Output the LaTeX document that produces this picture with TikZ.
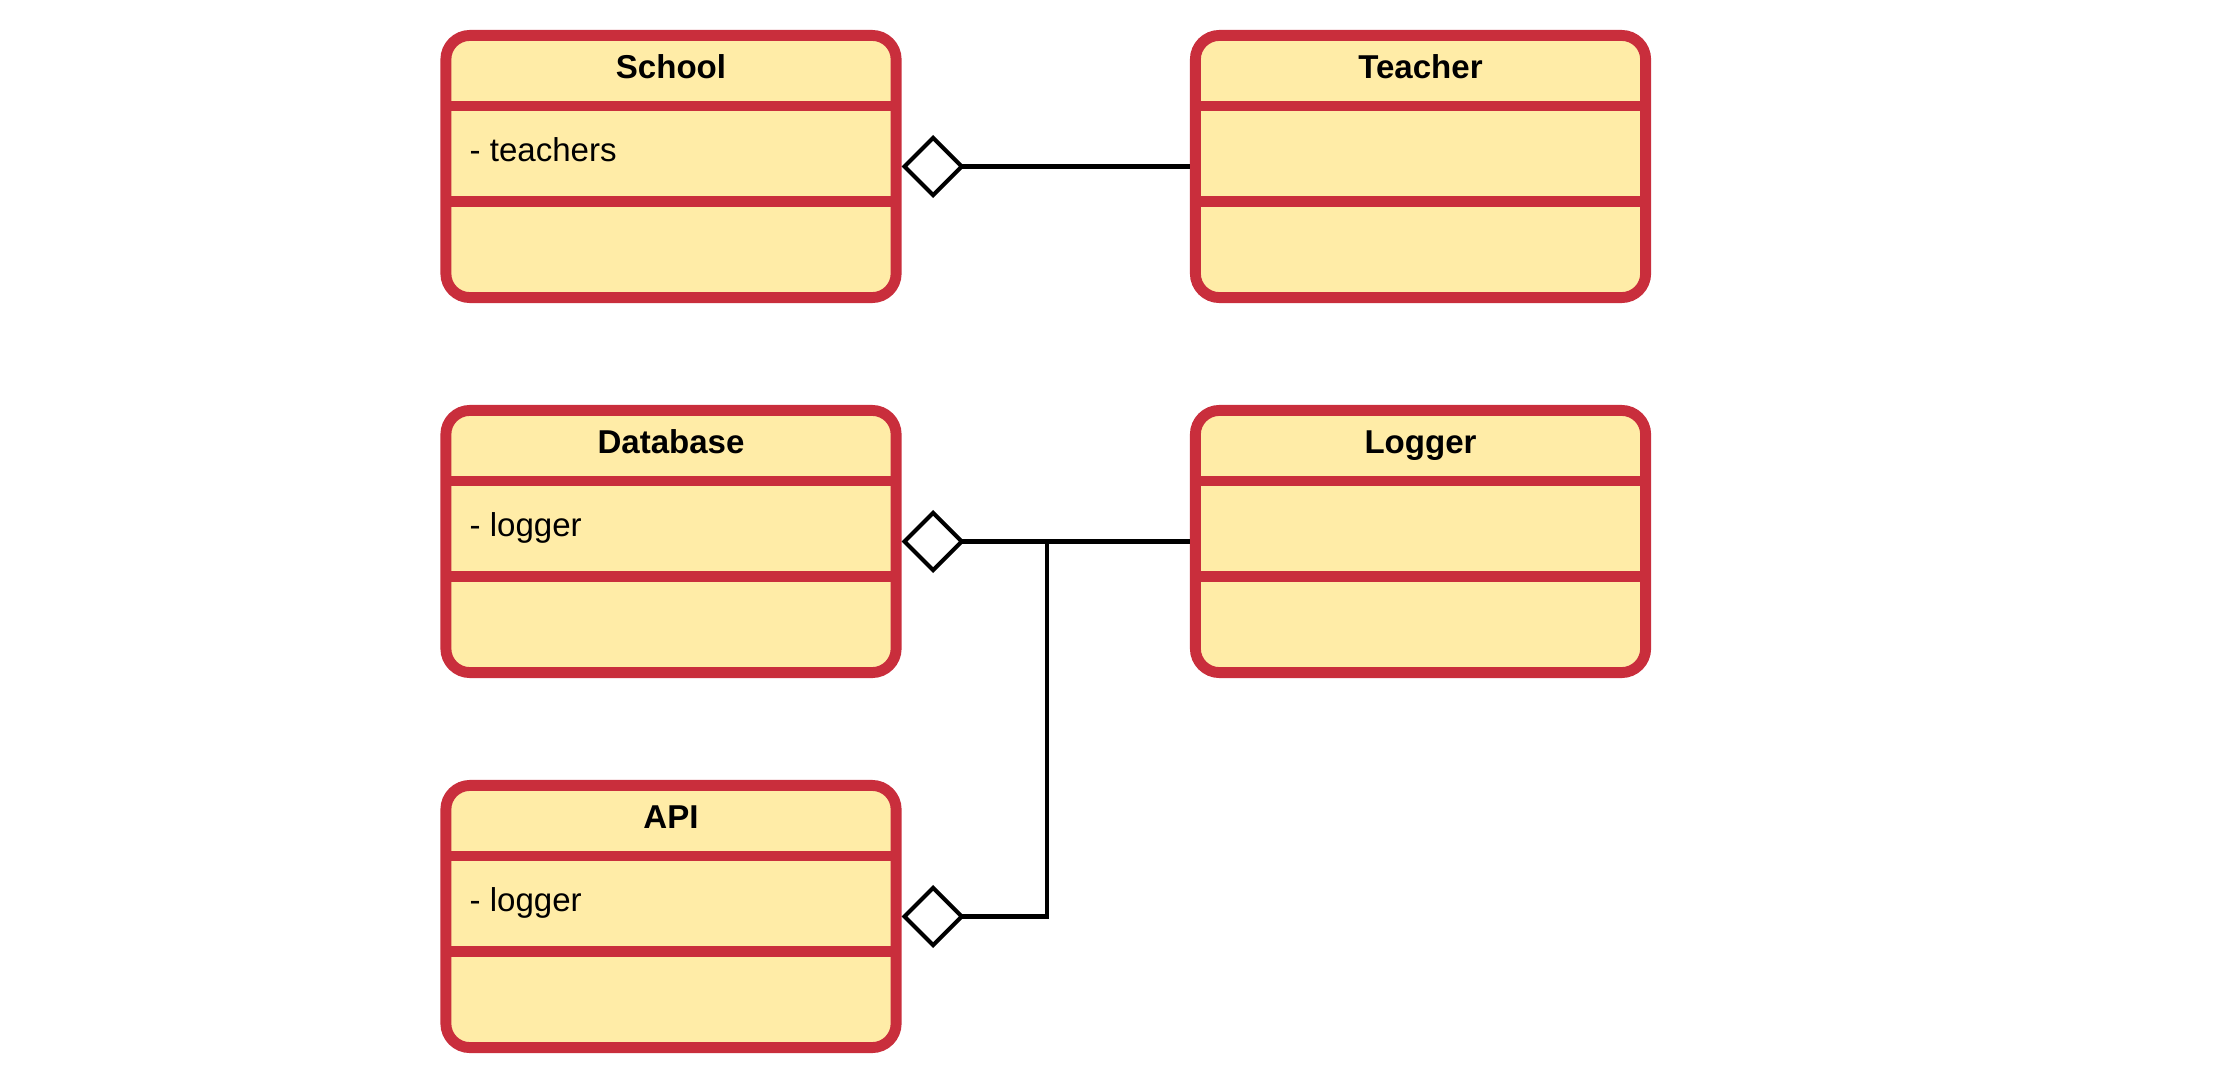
\documentclass[tikz,border=0pt]{standalone}
\usepackage{fontspec}
\setmainfont{Liberation Sans}
\usetikzlibrary{arrows.meta}
\definecolor{classred}{RGB}{201,46,60}
\definecolor{classfill}{RGB}{255,236,167}
\tikzset{
  classbox/.style={draw=classred,fill=classfill,line width=3.1pt,rounded corners=0.24cm,
    minimum width=4.5cm,minimum height=2.62cm,inner sep=0pt},
  divider/.style={draw=classred,line width=3.1pt},
  classname/.style={anchor=base,inner sep=0pt,font=\fontsize{9.4}{11}\selectfont\bfseries},
  attr/.style={anchor=base west,inner sep=0pt,font=\fontsize{9.4}{11}\selectfont},
  aggregation/.style={line width=1.15pt,{Diamond[open,fill=white,length=0.63cm,width=0.63cm]}-}
}
\begin{document}
\begin{tikzpicture}[x=0.01cm,y=-0.01cm]
 \useasboundingbox (0,0) rectangle (2231,1076);
 % class boxes
 \node[classbox] (school) at (671,166.5) {};
 \node[classbox] (teacher) at (1420.5,166.5) {};
 \node[classbox] (db) at (671,541.5) {};
 \node[classbox] (logger) at (1420.5,541.5) {};
 \node[classbox] (api) at (671,916.5) {};
 \foreach \n in {school,teacher,db,logger,api}{
  \draw[divider] ([shift={(-2.25cm,0.605cm)}]\n.center) -- ([shift={(2.25cm,0.605cm)}]\n.center);
  \draw[divider] ([shift={(-2.25cm,-0.35cm)}]\n.center) -- ([shift={(2.25cm,-0.35cm)}]\n.center);
 }
 % names and attributes
 \node[classname] (schoolname) at (671,78.3) {School};
 \node[classname] (teachername) at (1420.5,78.3) {Teacher};
 \node[classname] (dbname) at (671,453.3) {Database};
 \node[classname] (loggername) at (1420.5,453.3) {Logger};
 \node[classname] (apiname) at (671,828.3) {API};
 \node[attr] (schoolattr) at (469,161.5) {- teachers};
 \node[attr] (dbattr) at (469,536.5) {- logger};
 \node[attr] (apiattr) at (469,911.5) {- logger};
 % aggregations
 \coordinate (joint) at ([xshift=1.45cm]db.east);
 \draw[aggregation] (school.east) -- (teacher.west);
 \draw[aggregation] (db.east) -- (logger.west);
 \draw[aggregation] (api.east) -| (joint);
\end{tikzpicture}
\end{document}
